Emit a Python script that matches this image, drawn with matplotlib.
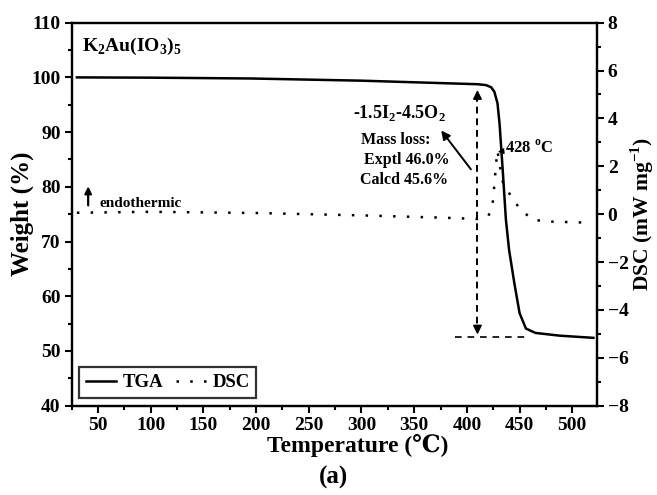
import matplotlib
matplotlib.use("Agg")
import matplotlib.pyplot as plt
from matplotlib.ticker import MultipleLocator

plt.rcParams["font.family"] = ["Liberation Serif", "DejaVu Serif"]
plt.rcParams["font.weight"] = "bold"
plt.rcParams["axes.labelweight"] = "bold"
plt.rcParams["mathtext.fontset"] = "custom"
plt.rcParams["mathtext.rm"] = "Liberation Serif:bold"
plt.rcParams["mathtext.bf"] = "Liberation Serif:bold"

# TGA weight curve (%)
tga_temp = [30, 100, 195, 300, 385, 410, 418, 423, 426, 429, 431, 434, 437,
            440, 445, 450, 456, 465, 488, 520]
tga_weight = [100.0, 99.95, 99.8, 99.4, 98.9, 98.75, 98.6, 98.2, 97.4, 95.3,
              91.5, 83.0, 74.0, 68.5, 62.4, 56.9, 54.1, 53.3, 52.8, 52.4]

# DSC heat flow (mW/mg)
dsc_temp = [30, 100, 200, 300, 380, 410, 420, 424, 425.5, 426.5, 427.5, 429,
            431, 434, 442, 451, 463, 480, 512]
dsc_flow = [0.06, 0.1, 0.05, -0.05, -0.15, -0.2, -0.1, 0.25, 0.95, 1.45, 2.05,
            2.65, 2.1, 1.36, 0.73, 0.18, -0.24, -0.31, -0.35]

# mass-loss step markers
step_temp = 410
step_top, step_bottom = 98.2, 52.5
base_span = [389, 459]
peak_temp = 428

fig = plt.figure(figsize=(6.57, 4.95), dpi=100)
ax = fig.add_axes([0.109, 0.1804, 0.799, 0.7738])
ax2 = ax.twinx()

tga_line, = ax.plot(tga_temp, tga_weight, color="black", lw=1.8,
                    solid_joinstyle="round", label="TGA")
dsc_line, = ax2.plot(dsc_temp, dsc_flow, color="black", lw=1.8,
                     linestyle=(0, (1, 4.5)), label="DSC")

# double-headed dashed arrow for the mass loss
ax.plot([step_temp, step_temp], [step_top - 1.5, step_bottom + 1.5],
        color="black", lw=1.4, linestyle=(0, (3.5, 2.5)))
ax.plot(base_span, [step_bottom, step_bottom], color="black", lw=1.2,
        linestyle=(0, (4, 3.5)))
ax.annotate("", xy=(step_temp, step_top), xytext=(step_temp, step_top - 2),
            arrowprops=dict(arrowstyle="-|>", color="black", lw=1.2,
                            mutation_scale=13))
ax.annotate("", xy=(step_temp, step_bottom), xytext=(step_temp, step_bottom + 2),
            arrowprops=dict(arrowstyle="-|>", color="black", lw=1.2,
                            mutation_scale=13))

# arrow from the step to the text block
ax.annotate("", xy=(374, 90.7), xytext=(405.4, 82.8),
            arrowprops=dict(arrowstyle="-|>", color="black", lw=1.4,
                            mutation_scale=13))

ax.text(336, 93.5, r"-1.5I$_2$-4.5O$_2$", fontsize=13, ha="center", va="center")
ax.text(300, 88.6, "Mass loss:", fontsize=11.5, ha="left", va="center")
ax.text(302.5, 84.9, "Exptl 46.0%", fontsize=11.5, ha="left", va="center")
ax.text(299, 81.3, "Calcd 45.6%", fontsize=11.5, ha="left", va="center")

ax2.annotate(f"{peak_temp} $^{{\\rm o}}$C", xy=(peak_temp, 2.6),
             xytext=(436, 2.75), fontsize=12, ha="left", va="center",
             arrowprops=dict(arrowstyle="-|>", color="black", lw=1.0,
                             mutation_scale=8, shrinkA=0, shrinkB=1))

ax.text(34.5, 105.6, r"K$_2$Au(IO$_3$)$_5$", fontsize=14, ha="left", va="center")

ax.annotate("", xy=(40.7, 80.6), xytext=(40.7, 76.1),
            arrowprops=dict(arrowstyle="-|>", color="black", lw=1.6,
                            mutation_scale=10))
ax.text(51, 76.9, "endothermic", fontsize=11, ha="left", va="center")

# axes ranges and ticks
ax.set_xlim(25, 523)
ax.set_ylim(40, 110)
ax2.set_ylim(-8, 8)
ax.xaxis.set_major_locator(MultipleLocator(50))
ax.xaxis.set_minor_locator(MultipleLocator(25))
ax.yaxis.set_major_locator(MultipleLocator(10))
ax.yaxis.set_minor_locator(MultipleLocator(5))
ax2.yaxis.set_major_locator(MultipleLocator(2))
ax2.yaxis.set_minor_locator(MultipleLocator(1))
ax.set_xticks([50, 100, 150, 200, 250, 300, 350, 400, 450, 500])

for a in (ax, ax2):
    for s in a.spines.values():
        s.set_linewidth(1.6)
    a.tick_params(which="major", direction="out", length=5, width=1.5,
                  labelsize=14, pad=3)
    a.tick_params(which="minor", direction="out", length=3, width=1.5)
ax.tick_params(top=False, right=False, which="both")

ax.set_xlabel("Temperature (℃)", fontsize=17)
ax.xaxis.set_label_coords(0.545, -0.075)
ax.set_ylabel("Weight (%)", fontsize=18, labelpad=-2)
ax2.set_ylabel(r"DSC (mW mg$^{-1}$)", fontsize=15.5, labelpad=0)
fig.text(0.508, 0.035, "(a)", fontsize=18, ha="center", va="center")

leg = ax2.legend(handles=[tga_line, dsc_line], loc="lower left",
                 bbox_to_anchor=(0.0145, 0.021), borderaxespad=0, ncol=2,
                 fontsize=13.5, frameon=True, fancybox=False,
                 handlelength=1.6, handletextpad=0.35, columnspacing=0.7,
                 borderpad=0.35)
leg.get_frame().set_edgecolor("black")
leg.get_frame().set_linewidth(1.6)

fig.savefig("out.png", dpi=100)
